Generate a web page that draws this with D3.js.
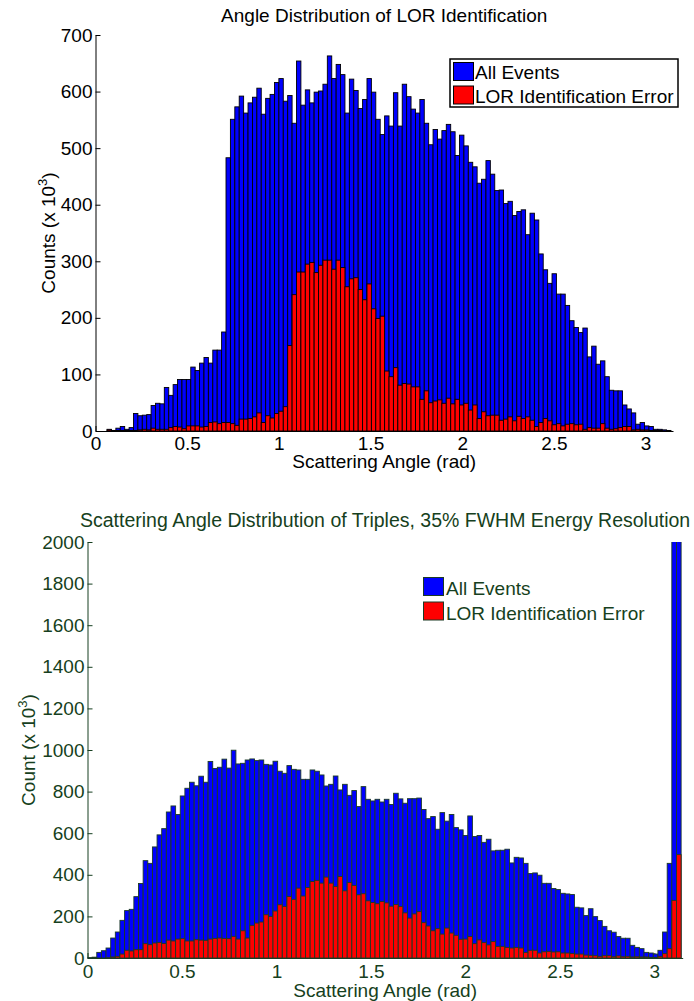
<!DOCTYPE html>
<html>
<head>
<meta charset="utf-8">
<script src="https://cdn.jsdelivr.net/npm/d3@7/dist/d3.min.js"></script>
<style>
  body { margin: 0; background: #fff; }
  svg { display: block; font-family: "Liberation Sans", Arial, sans-serif; }
</style>
</head>
<body>
<div id="chart"></div>
<script>
// Histogram counts (x 10^3), 128 bins each
const allEventsLOR = [
  3, 1, 5, 8, 3, 6, 31, 27, 28, 29,
  45, 49, 48, 77, 63, 82, 91, 91, 91, 113,
  107, 120, 130, 120, 143, 143, 175, 483, 551, 573,
  592, 562, 580, 590, 606, 560, 588, 595, 616, 623,
  583, 593, 544, 654, 576, 603, 580, 599, 601, 613,
  663, 623, 648, 630, 562, 622, 602, 570, 586, 623,
  599, 551, 524, 557, 539, 598, 539, 613, 591, 569,
  562, 586, 544, 506, 533, 516, 531, 542, 529, 487,
  523, 504, 475, 467, 438, 445, 478, 454, 425, 426,
  402, 406, 381, 388, 391, 347, 385, 373, 313, 285,
  261, 278, 242, 242, 222, 195, 183, 174, 182, 131,
  150, 118, 124, 96, 72, 71, 71, 46, 39, 32,
  12, 15, 9, 8, 3, 3, 2, 1
];
const errorLOR = [
  2, 1, 1, 1, 1, 1, 1, 2, 3, 2,
  5, 3, 3, 3, 6, 8, 7, 4, 9, 9,
  9, 7, 8, 15, 16, 13, 15, 15, 13, 10,
  21, 21, 22, 25, 32, 15, 27, 23, 31, 35,
  43, 151, 241, 281, 281, 295, 298, 280, 293, 302,
  302, 286, 302, 289, 255, 269, 271, 250, 232, 260,
  216, 199, 203, 106, 96, 112, 81, 84, 83, 78,
  78, 56, 71, 50, 53, 55, 49, 58, 48, 56,
  46, 49, 37, 46, 22, 34, 27, 28, 28, 19,
  21, 25, 18, 26, 22, 25, 19, 8, 15, 22,
  18, 11, 13, 9, 12, 13, 11, 12, 3, 6,
  5, 5, 13, 5, 3, 4, 6, 8, 8, 2,
  3, 2, 2, 1, 1, 1, 0, 0
];
const allEventsTriples = [
  2, 4, 27, 35, 48, 96, 125, 181, 228, 234,
  295, 358, 468, 455, 534, 592, 622, 702, 731, 690,
  779, 816, 845, 828, 874, 845, 945, 911, 917, 956,
  913, 999, 933, 936, 952, 957, 949, 952, 931, 928,
  946, 898, 888, 925, 907, 904, 859, 859, 904, 898,
  880, 827, 835, 875, 808, 835, 782, 805, 728, 824,
  763, 755, 763, 750, 763, 738, 792, 765, 744, 766,
  766, 769, 714, 670, 680, 619, 699, 658, 690, 627,
  616, 589, 683, 584, 589, 556, 571, 515, 518, 518,
  523, 457, 484, 481, 455, 406, 409, 398, 359, 359,
  334, 329, 311, 308, 305, 244, 241, 204, 237, 199,
  180, 152, 131, 124, 103, 95, 95, 61, 51, 45,
  27, 24, 19, 37, 125, 455, 2600, 3000
];
const errorTriples = [
  0, 0, 0, 0, 1, 5, 8, 19, 37, 34,
  40, 40, 69, 64, 72, 75, 70, 86, 82, 91,
  93, 82, 82, 88, 86, 85, 91, 94, 96, 94,
  93, 104, 91, 131, 96, 157, 168, 173, 208, 200,
  226, 256, 248, 296, 282, 336, 298, 339, 368, 373,
  360, 389, 360, 344, 392, 323, 363, 349, 304, 309,
  275, 267, 261, 272, 265, 249, 257, 247, 217, 192,
  212, 223, 170, 154, 131, 141, 115, 144, 120, 109,
  90, 91, 103, 69, 87, 74, 63, 79, 56, 56,
  51, 48, 51, 48, 27, 37, 37, 24, 30, 32,
  29, 30, 24, 24, 22, 19, 19, 14, 13, 11,
  8, 11, 11, 6, 10, 6, 8, 5, 6, 5,
  5, 3, 3, 8, 21, 45, 277, 497
];

// bin ranges (rad) and axis ticks
const binRangeLOR = [0.063, 3.139];
const binRangeTriples = [0, Math.PI];
const xTicks = [0, 0.5, 1, 1.5, 2, 2.5, 3];
const yTicksLOR = [0, 100, 200, 300, 400, 500, 600, 700];
const yTicksTriples = [0, 200, 400, 600, 800, 1000, 1200, 1400, 1600, 1800, 2000];
const legendLabels = ['All Events', 'LOR Identification Error'];

class HistogramPanel {
  constructor(svg, id, options) {
    this.svg = svg;
    this.id = id;
    this.o = options;
  }

  draw() {
    const o = this.o;
    const g = this.svg.append('g').attr('class', this.id);

    const x = d3.scaleLinear().domain([0, 3.15]).range([o.left, o.right]);
    const y = d3.scaleLinear().domain([0, o.yTicks[o.yTicks.length - 1]]).range([o.bottom, o.top]);
    const n = o.all.length;
    const w = (o.binRange[1] - o.binRange[0]) / n;
    const x0 = i => o.binRange[0] + i * w;

    // axes first so bars sit on top of the tick marks
    const xAxis = g.append('g')
      .attr('transform', `translate(0,${o.bottom})`)
      .call(d3.axisBottom(x).tickValues(xTicks).tickSize(-5).tickSizeOuter(0)
        .tickPadding(o.xPad).tickFormat(d => d));
    const yAxis = g.append('g')
      .attr('transform', `translate(${o.left},0)`)
      .call(d3.axisLeft(y).tickValues(o.yTicks).tickSize(-5).tickSizeOuter(0)
        .tickPadding(3).tickFormat(d => d));
    [xAxis, yAxis].forEach(a => {
      a.attr('color', o.color).attr('font-size', 19).attr('font-family', null);
      a.selectAll('text').attr('fill', o.color);
    });

    g.append('clipPath').attr('id', this.id + '-clip')
      .append('rect')
      .attr('x', o.left).attr('y', o.top)
      .attr('width', o.right - o.left + 2).attr('height', o.bottom - o.top + 1);

    const bars = g.append('g').attr('clip-path', `url(#${this.id}-clip)`);
    [[o.all, '#0000ff'], [o.err, '#ff0000']].forEach(([vals, fill]) => {
      bars.append('g')
        .selectAll('rect')
        .data(vals)
        .enter()
        .append('rect')
        .attr('x', (d, i) => x(x0(i)))
        .attr('width', (d, i) => x(x0(i + 1)) - x(x0(i)))
        .attr('y', d => y(d))
        .attr('height', d => o.bottom - y(d))
        .attr('fill', fill)
        .attr('stroke', o.edge)
        .attr('stroke-width', 0.9);
    });

    // titles and labels
    g.append('text')
      .attr('x', (o.left + o.right) / 2)
      .attr('y', o.titleY)
      .attr('text-anchor', 'middle')
      .attr('font-size', o.titleSize)
      .attr('fill', o.color)
      .text(o.title);

    g.append('text')
      .attr('x', (o.left + o.right) / 2)
      .attr('y', o.xLabelY)
      .attr('text-anchor', 'middle')
      .attr('font-size', 19)
      .attr('fill', o.color)
      .text('Scattering Angle (rad)');

    const yl = g.append('text')
      .attr('transform', `translate(${o.yLabelX},${(o.top + o.bottom) / 2}) rotate(-90)`)
      .attr('text-anchor', 'middle')
      .attr('font-size', 19)
      .attr('fill', o.color);
    yl.append('tspan').text(o.yLabel + ' (x 10');
    yl.append('tspan').attr('dy', -8).attr('font-size', 13).text('3');
    yl.append('tspan').attr('dy', 8).text(')');

    this.drawLegend(g);
  }

  drawLegend(g) {
    const L = this.o.legend;
    const leg = g.append('g').attr('transform', `translate(${L.x},${L.y})`);
    if (L.box) {
      leg.append('rect')
        .attr('x', 0).attr('y', 0)
        .attr('width', L.w).attr('height', L.h)
        .attr('fill', '#fff')
        .attr('stroke', '#000')
        .attr('stroke-width', 1.5);
    }
    ['#0000ff', '#ff0000'].forEach((c, i) => {
      leg.append('rect')
        .attr('x', L.px).attr('y', L.py + i * L.row)
        .attr('width', 20).attr('height', 18)
        .attr('fill', c)
        .attr('stroke', this.o.edge)
        .attr('stroke-width', 1);
      leg.append('text')
        .attr('x', L.tx).attr('y', L.ty + i * L.row)
        .attr('font-size', 19)
        .attr('fill', this.o.color)
        .text(legendLabels[i]);
    });
  }
}

const svg = d3.select('#chart')
  .append('svg')
  .attr('width', 694)
  .attr('height', 1001);

new HistogramPanel(svg, 'lor', {
  all: allEventsLOR, err: errorLOR, binRange: binRangeLOR, yTicks: yTicksLOR,
  left: 95.5, right: 673, top: 35, bottom: 431,
  color: '#000', edge: '#000', xPad: 6,
  title: 'Angle Distribution of LOR Identification', titleY: 22, titleSize: 19,
  xLabelY: 468, yLabel: 'Counts', yLabelX: 55,
  legend: { x: 450, y: 59, w: 228, h: 48, box: true, px: 3.5, py: 3.5, tx: 25, ty: 20, row: 23.5 }
}).draw();

new HistogramPanel(svg, 'triples', {
  all: allEventsTriples, err: errorTriples, binRange: binRangeTriples, yTicks: yTicksTriples,
  left: 87.5, right: 682.7, top: 542, bottom: 958,
  color: '#163f20', edge: '#1c3a24', xPad: 7,
  title: 'Scattering Angle Distribution of Triples, 35% FWHM Energy Resolution', titleY: 527, titleSize: 19.5,
  xLabelY: 997, yLabel: 'Count', yLabelX: 35,
  legend: { x: 420, y: 574, box: false, px: 3.5, py: 3.5, tx: 26, ty: 21, row: 24.5 }
}).draw();
</script>
</body>
</html>
